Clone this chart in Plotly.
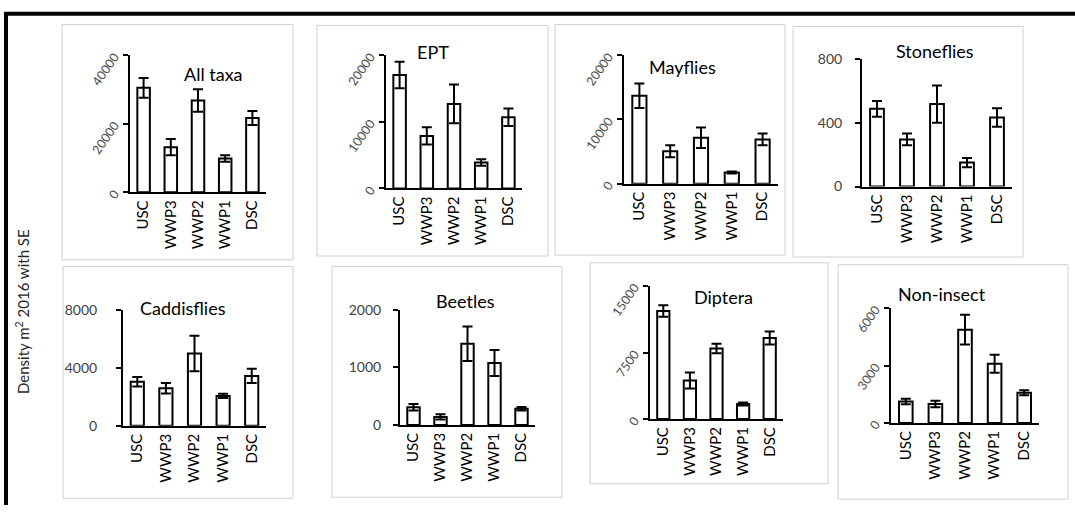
import plotly.graph_objects as go

W, H = 1075, 514

sites = ["USC", "WWP3", "WWP2", "WWP1", "DSC"]

all_taxa = [30500, 13200, 26800, 9900, 21700]
all_taxa_se = [2900, 2350, 3300, 950, 2050]
ept = [17050, 7900, 12700, 3900, 10700]
ept_se = [2000, 1300, 2900, 480, 1300]
mayflies = [13700, 5050, 7150, 1750, 6900]
mayflies_se = [1900, 950, 1600, 150, 900]
stoneflies = [488, 296, 518, 151, 434]
stoneflies_se = [50, 37, 117, 29, 58]
caddisflies = [3050, 2600, 5000, 2070, 3450]
caddisflies_se = [330, 360, 1220, 150, 490]
beetles = [307, 139, 1413, 1078, 280]
beetles_se = [55, 45, 300, 225, 30]
diptera = [12180, 4340, 7950, 1700, 9140]
diptera_se = [650, 900, 540, 180, 730]
non_insect = [1124, 993, 4876, 3090, 1580]
non_insect_se = [140, 165, 780, 470, 135]

titles = ["All taxa", "EPT", "Mayflies", "Stoneflies",
          "Caddisflies", "Beetles", "Diptera", "Non-insect"]
y_max = [40000, 20000, 20000, 800, 8000, 2000, 15000, 6000]
y_ticks = [[0, 20000, 40000], [0, 10000, 20000], [0, 10000, 20000], [0, 400, 800],
           [0, 4000, 8000], [0, 1000, 2000], [0, 7500, 15000], [0, 3000, 6000]]
series = [(all_taxa, all_taxa_se), (ept, ept_se), (mayflies, mayflies_se),
          (stoneflies, stoneflies_se), (caddisflies, caddisflies_se),
          (beetles, beetles_se), (diptera, diptera_se), (non_insect, non_insect_se)]

# layout in pixels: panel frame, plot area (left, right, top, bottom), title centre, slanted ticks
frames = [(62, 16, 293, 260), (317, 17, 548, 256), (555, 16, 785, 255), (793, 18, 1023, 257),
          (63, 267, 293, 507), (332, 267, 562, 506), (590, 263, 828, 492), (838, 265, 1068, 508)]
areas = [(130, 266, 48, 190), (386, 522, 48, 186), (624, 778, 48, 181), (862, 1012, 52, 184),
         (123, 266, 312, 432), (400, 535, 312, 431), (650, 783, 287, 425), (891, 1039, 310, 429)]
title_pos = [(213, 67), (433, 45), (682, 60), (935, 44),
             (183, 310), (465, 303), (723, 298), (942, 295)]
slanted = [True, True, True, False, False, False, True, True]
label_gap = [6, 6, 6, 10, 16, 9, 6, 6]

FONT = "Lato"

fig = go.Figure()
shapes = []
annotations = []
layout_axes = {}

def px_x(x):
    return x / W

def px_y(y):
    return 1 - y / H

for i in range(8):
    n = i + 1
    xa = "x" if n == 1 else f"x{n}"
    ya = "y" if n == 1 else f"y{n}"
    vals, se = series[i]
    fig.add_trace(go.Bar(
        x=sites, y=vals, xaxis=xa, yaxis=ya, width=0.46,
        marker=dict(color="white", line=dict(color="black", width=2)),
        error_y=dict(type="data", array=se, visible=True, color="black",
                     thickness=2, width=5),
        showlegend=False, hoverinfo="x+y",
    ))
    l, r, t, b = areas[i]
    layout_axes["xaxis" if n == 1 else f"xaxis{n}"] = dict(
        domain=[px_x(l), px_x(r)], anchor=ya, type="category",
        range=[-0.5, 4.5], showline=True, linecolor="black", linewidth=2,
        ticks="", tickangle=-90, showgrid=False, zeroline=False,
        tickfont=dict(family=FONT, size=15, color="black"),
    )
    yax = dict(
        domain=[px_y(b), px_y(t)], anchor=xa, range=[0, y_max[i]],
        showline=True, linecolor="black", linewidth=2,
        ticks="outside", ticklen=5, tickwidth=1.5, tickcolor="black",
        tickvals=y_ticks[i], ticktext=[str(v) for v in y_ticks[i]],
        showgrid=False, zeroline=False, ticklabelstandoff=label_gap[i],
    )
    if slanted[i]:
        yax.update(tickangle=-55, tickfont=dict(family=FONT, size=12.5, color="#4d4d4d"))
    else:
        yax.update(tickfont=dict(family=FONT, size=14, color="#404040"))
    layout_axes["yaxis" if n == 1 else f"yaxis{n}"] = yax

    fx0, fy0, fx1, fy1 = frames[i]
    shapes.append(dict(type="rect", xref="paper", yref="paper",
                       x0=px_x(fx0), x1=px_x(fx1), y0=px_y(fy1), y1=px_y(fy0),
                       line=dict(color="#d0d0d0", width=1), fillcolor="white",
                       layer="below"))
    tx, ty = title_pos[i]
    annotations.append(dict(text=titles[i], xref="paper", yref="paper",
                            x=px_x(tx), y=px_y(ty), xanchor="center", yanchor="middle",
                            showarrow=False, font=dict(family=FONT, size=18, color="black")))

# outer frame (top and left edges)
shapes.append(dict(type="line", xref="paper", yref="paper",
                   x0=px_x(4), x1=1, y0=px_y(5), y1=px_y(5),
                   line=dict(color="black", width=4)))
shapes.append(dict(type="line", xref="paper", yref="paper",
                   x0=px_x(6), x1=px_x(6), y0=px_y(5), y1=0,
                   line=dict(color="black", width=4)))

annotations.append(dict(text="Density m<sup>2</sup> 2016 with SE", xref="paper", yref="paper",
                        x=px_x(22), y=px_y(314), xanchor="center", yanchor="middle",
                        textangle=-90, showarrow=False,
                        font=dict(family=FONT, size=15, color="#262626")))

fig.update_layout(
    width=W, height=H, margin=dict(l=0, r=0, t=0, b=0),
    paper_bgcolor="white", plot_bgcolor="rgba(0,0,0,0)",
    shapes=shapes, annotations=annotations, bargap=0.5,
    **layout_axes,
)

fig.write_html("out.html")
